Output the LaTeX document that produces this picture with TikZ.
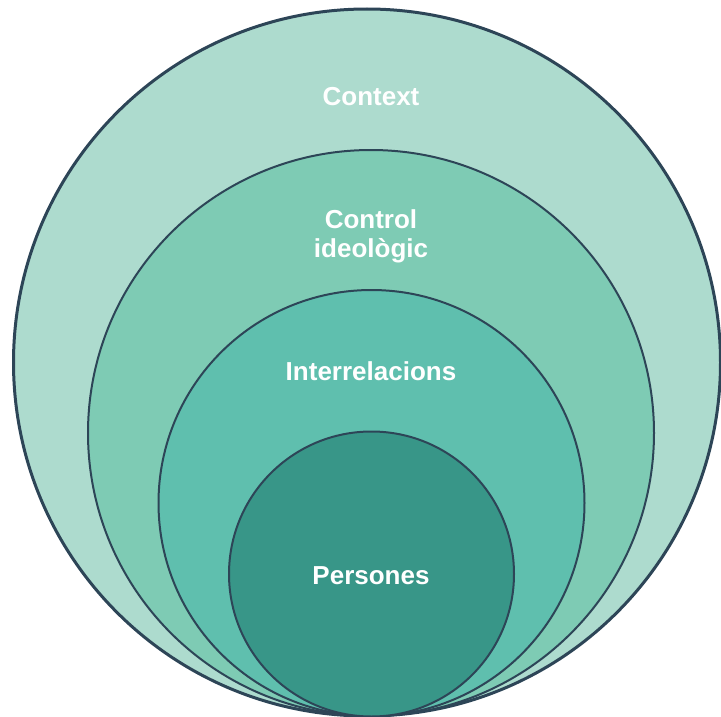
\documentclass[tikz,border=0pt]{standalone}
\usepackage{fontspec}
\setmainfont{Liberation Sans}
\definecolor{ringline}{HTML}{2D4557}
\definecolor{ringA}{HTML}{ADDBCE}
\definecolor{ringB}{HTML}{7ECBB4}
\definecolor{ringC}{HTML}{5FBFAE}
\definecolor{ringD}{HTML}{389688}
\tikzset{ringlabel/.style={text=white, font=\fontsize{26}{29}\selectfont\bfseries, align=center}}

\begin{document}
\begin{tikzpicture}[x=1pt, y=-1pt]
		%%%%% START %%%%%
		\useasboundingbox (0, 0) rectangle (721, 717);
		
		\draw[line width=3pt, color=ringline, fill=ringA] (367, 362.5) circle (353.5);
		\draw[line width=2pt, color=ringline, fill=ringB] (371, 433) circle (283);
		\draw[line width=2pt, color=ringline, fill=ringC] (371.5, 503) circle (213);
		\draw[line width=2pt, color=ringline, fill=ringD] (371.5, 574) circle (142.5);
		
		\node[ringlabel] (context) at (371, 97) {Context};
		\node[ringlabel] (control) at (371, 236) {Control\\ideològic};
		\node[ringlabel] (interrel) at (371, 371) {Interrelacions};
		\node[ringlabel] (persones) at (371, 576) {Persones};
		
		%%%%% END %%%%%
	\end{tikzpicture}
\end{document}
